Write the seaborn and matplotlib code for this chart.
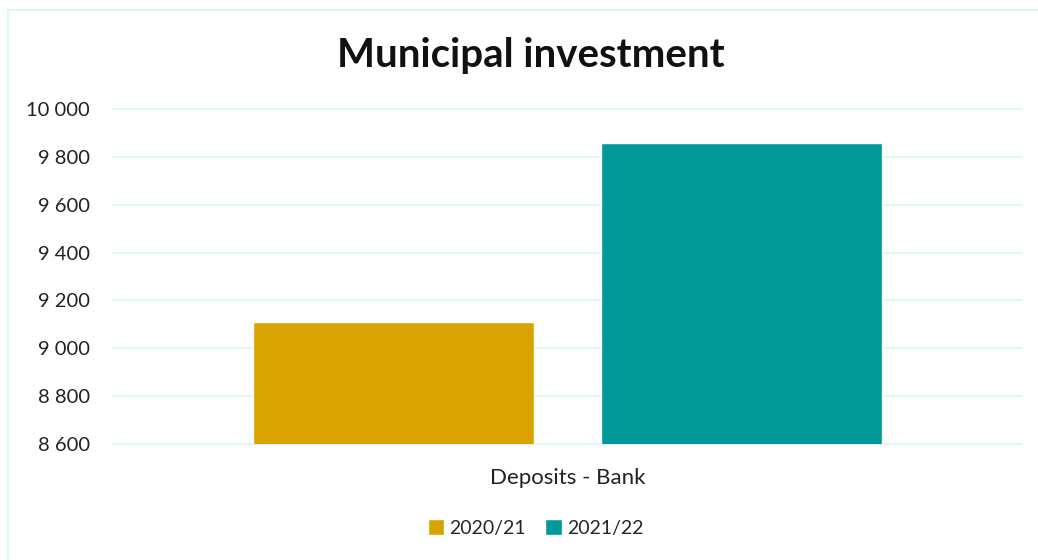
import matplotlib
matplotlib.use("Agg")
import matplotlib.pyplot as plt
from matplotlib.patches import Rectangle
from matplotlib.ticker import FuncFormatter
import seaborn as sns
import pandas as pd

categories = ["Deposits - Bank"]
periods = ["2020/21", "2021/22"]
values = [9110, 9858]
colors = ["#D9A300", "#009999"]
y_ticks = list(range(8600, 10001, 200))

df = pd.DataFrame({
    "category": categories * len(periods),
    "period": periods,
    "value": values,
})

sns.set_theme(style="white")
plt.rcParams["font.family"] = ["Lato", "DejaVu Sans"]

fig = plt.figure(figsize=(10.38, 5.6), dpi=100)
ax = fig.add_axes([113 / 1038, 1 - 444 / 560, 909 / 1038, (444 - 109) / 560])

sns.barplot(data=df, x="category", y="value", hue="period",
            palette=colors, width=0.765, gap=0.19, ax=ax,
            saturation=1, legend=True)

ax.set_xlim(-0.5, 0.5)
ax.set_ylim(8600, 10000)
ax.set_yticks(y_ticks)
ax.yaxis.set_major_formatter(FuncFormatter(lambda v, p: f"{int(v):,}".replace(",", " ")))
ax.grid(axis="y", color="#D8F8F0", linewidth=1.3)
ax.set_axisbelow(True)
for s in ax.spines.values():
    s.set_visible(False)
ax.tick_params(axis="y", length=0, labelsize=14.5, pad=16.5, labelcolor="#222222")
ax.tick_params(axis="x", length=0, labelsize=16, pad=17, labelcolor="#222222")
ax.set_xlabel("")
ax.set_ylabel("")
for gl in ax.get_ygridlines():
    gl.set_clip_on(False)

ax.legend(loc="center", bbox_to_anchor=(0.5 - 32 / 909, -84 / 335),
          ncol=2, frameon=False, fontsize=14, handlelength=0.85,
          handleheight=0.85, handletextpad=0.25, columnspacing=1.0)

fig.text(0.511, 1 - 55 / 560, "Municipal investment", ha="center", va="center",
         fontsize=29, fontweight="bold", color="#111111")

fig.patches.append(Rectangle((8 / 1038, -0.1), 1.1, 1 - 10 / 560 + 0.1,
                             transform=fig.transFigure, fill=False,
                             edgecolor="#D8F8F0", linewidth=1.5))

fig.savefig("out.png", dpi=100)
